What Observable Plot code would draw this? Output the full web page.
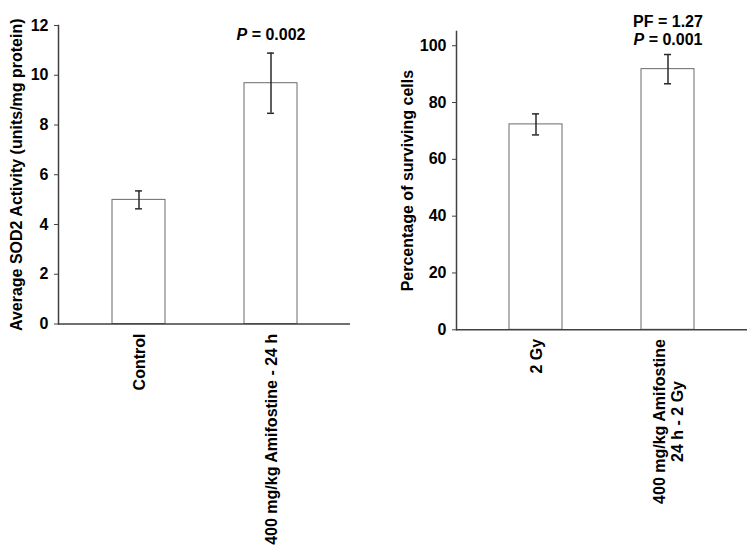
<!DOCTYPE html>
<html><head><meta charset="utf-8">
<script src="https://cdn.jsdelivr.net/npm/d3@7"></script>
<script src="https://cdn.jsdelivr.net/npm/@observablehq/plot@0.6"></script>
<style>
body{margin:0;background:#fff;}
#wrap{position:relative;width:753px;height:559px;overflow:hidden;background:#fff;}
#left{position:absolute;left:0;top:0;}
#right{position:absolute;left:376px;top:0;}
</style></head>
<body><div id="wrap"><div id="left"></div><div id="right"></div></div>
<script>
// ---- data ----
const sodCategories = ["Control", "400 mg/kg Amifostine - 24 h"];
const sodMeans = [4.99, 9.68];
const sodErrors = [0.36, 1.21];
const sodTicks = [0, 2, 4, 6, 8, 10, 12];
const sodDomain = [0, 12];
const sodLabel = "Average SOD2 Activity (units/mg protein)";
const sodAnnotation = "P = 0.002";

const survCategories = ["2 Gy", "400 mg/kg Amifostine\n24 h - 2 Gy"];
const survMeans = [72.3, 91.75];
const survErrors = [3.7, 5.15];
const survTicks = [0, 20, 40, 60, 80, 100];
const survDomain = [0, 105];
const survLabel = "Percentage of surviving cells";
const survAnnotation = "PF = 1.27\nP = 0.001";

// ---- helpers ----
const FONT = "'Liberation Sans', Arial, Helvetica, sans-serif";
const ctx = document.createElement("canvas").getContext("2d");
function measure(s) { ctx.font = `bold 16px ${FONT}`; return ctx.measureText(s).width; }

function italicP(svg) {
  svg.querySelectorAll("text, tspan").forEach(el => {
    if (el.children.length) return;
    const t = el.textContent;
    if (/^P = /.test(t)) {
      el.textContent = "";
      const it = document.createElementNS("http://www.w3.org/2000/svg", "tspan");
      it.setAttribute("font-style", "italic");
      it.textContent = "P";
      el.appendChild(it);
      el.appendChild(document.createTextNode(t.slice(1)));
    }
  });
}

function barChart({cats, means, errs, ticks, domain, yLabel, annotation, width, mL, mR, mT, mB, yLabelDx, annotDy, labelGap}) {
  const data = cats.map((c, i) => ({cat: c, mean: means[i], lo: means[i] - errs[i], hi: means[i] + errs[i]}));
  const pi = 0.6, po = 0.4;
  const step = (width - mL - mR) / (cats.length - pi + 2 * po);
  const bw = step * (1 - pi);
  const capInset = (bw - 7) / 2;
  const last = data[data.length - 1];
  const labelMarks = cats.map(c => {
    const len = Math.max(...c.split("\n").map(measure));
    return Plot.text([c], {x: d => d, frameAnchor: "bottom", rotate: -90, textAnchor: "middle",
      lineAnchor: "middle", lineHeight: 1.125, dy: labelGap + len / 2, fill: "#000"});
  });
  const svg = Plot.plot({
    width, height: 559,
    marginLeft: mL, marginRight: mR, marginTop: mT, marginBottom: mB,
    style: {fontFamily: FONT, fontSize: "16px", fontWeight: "bold", color: "#000", background: "#fff", overflow: "visible"},
    x: {type: "band", domain: cats, paddingInner: pi, paddingOuter: po, axis: null},
    y: {domain, axis: null},
    marks: [
      Plot.barY(data, {x: "cat", y: "mean", fill: "white", stroke: "#6a6a6a", strokeWidth: 1}),
      Plot.ruleX(data, {x: "cat", y1: "lo", y2: "hi", stroke: "#2a2a2a", strokeWidth: 1.5}),
      Plot.tickY(data, {x: "cat", y: "lo", insetLeft: capInset, insetRight: capInset, stroke: "#2a2a2a", strokeWidth: 1.5}),
      Plot.tickY(data, {x: "cat", y: "hi", insetLeft: capInset, insetRight: capInset, stroke: "#2a2a2a", strokeWidth: 1.5}),
      Plot.ruleY([0], {stroke: "#404040", strokeWidth: 1.5}),
      Plot.frame({anchor: "left", stroke: "#404040", strokeWidth: 1.5}),
      Plot.axisY({ticks, tickSize: 4, tickPadding: 6, label: null, stroke: "#404040"}),
      Plot.text([yLabel], {frameAnchor: "left", dx: yLabelDx, rotate: -90, textAnchor: "middle", lineAnchor: "middle", fill: "#000"}),
      Plot.text([annotation], {x: () => last.cat, y: () => last.hi, dy: annotDy, lineAnchor: "middle", lineHeight: 1.125, fill: "#000"}),
      ...labelMarks
    ]
  });
  italicP(svg);
  return svg;
}

document.getElementById("left").appendChild(barChart({
  cats: sodCategories, means: sodMeans, errs: sodErrors, ticks: sodTicks, domain: sodDomain,
  yLabel: sodLabel, annotation: sodAnnotation,
  width: 376, mL: 58, mR: 26, mT: 25, mB: 235.5, yLabelDx: -42, annotDy: -19, labelGap: 9.5
}));
document.getElementById("right").appendChild(barChart({
  cats: survCategories, means: survMeans, errs: survErrors, ticks: survTicks, domain: survDomain,
  yLabel: survLabel, annotation: survAnnotation,
  width: 377, mL: 80, mR: 6, mT: 31, mB: 229.7, yLabelDx: -49, annotDy: -24, labelGap: 9
}));
</script>
</body></html>
